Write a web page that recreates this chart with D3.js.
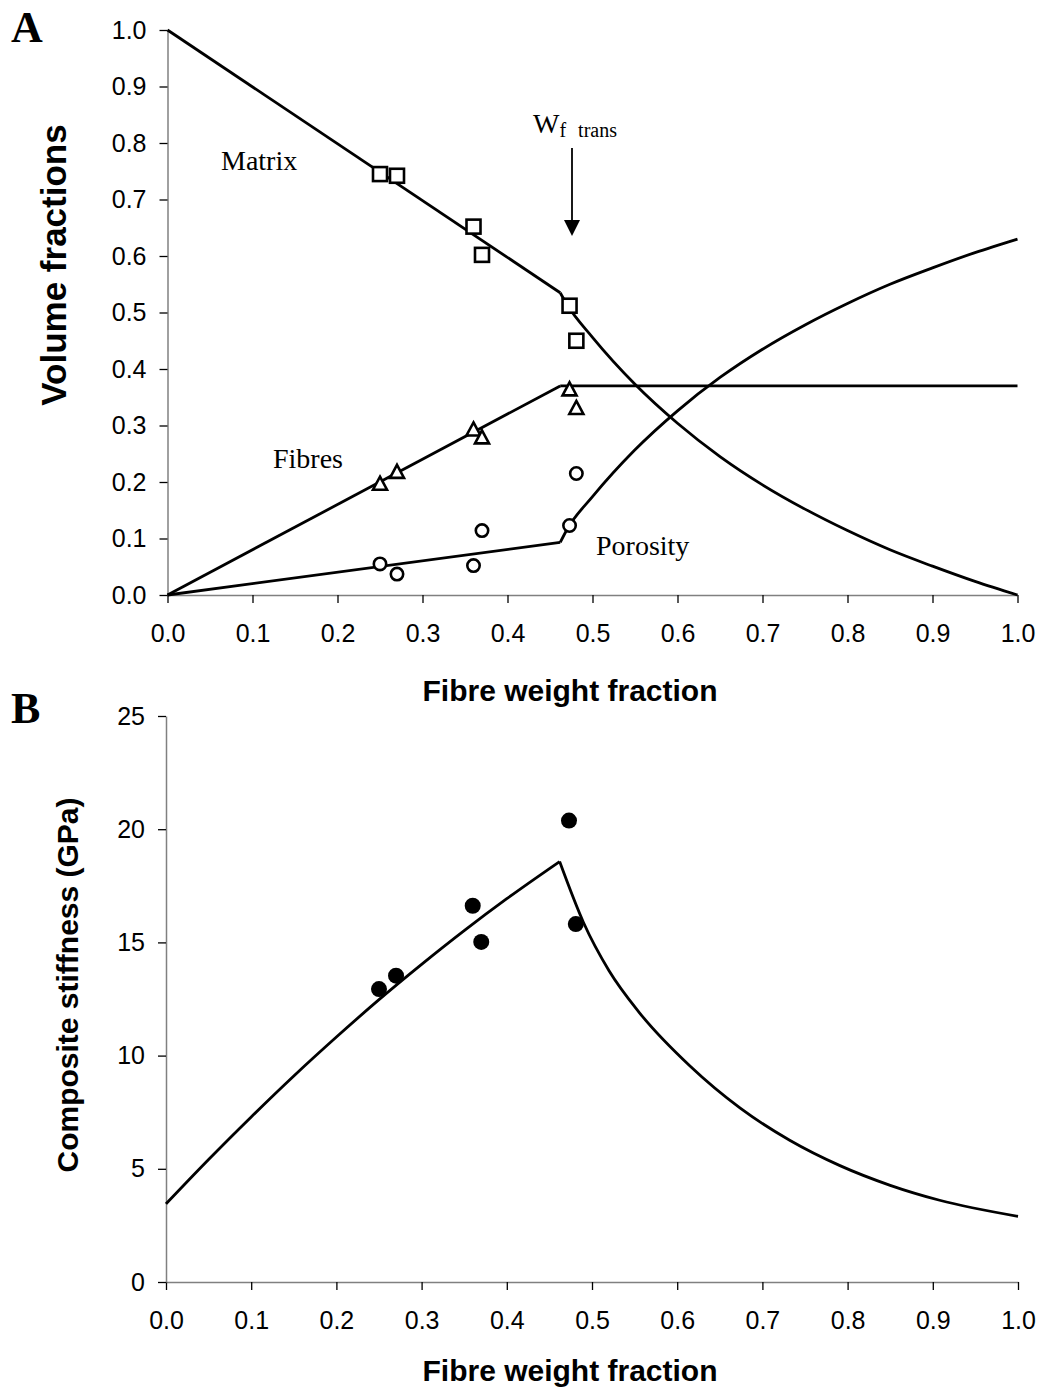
<!DOCTYPE html>
<html lang="en">
<head>
<meta charset="UTF-8">
<title>Volume fractions and composite stiffness vs fibre weight fraction</title>
<script src="https://cdnjs.cloudflare.com/ajax/libs/d3/7.8.5/d3.min.js"></script>
<style>
  body { margin: 0; background: #fff; }
  svg { display: block; }
  .tick text { font-family: "Liberation Sans", Arial, sans-serif; font-size: 25px; fill: #000; }
  .axis .domain { stroke: #808080; stroke-width: 1.5; }
  .axis .tick line { stroke: #000; stroke-width: 1.3; }
  .title { font-family: "Liberation Sans", Arial, sans-serif; font-size: 30px; font-weight: bold; }
  .note { font-family: "Liberation Serif", "Times New Roman", serif; font-size: 28px; }
  .panel { font-family: "Liberation Serif", "Times New Roman", serif; font-size: 44px; font-weight: bold; }
</style>
</head>
<body>
<div id="chart"></div>
<script>
// measured samples (fibre weight fraction)
const sampleWf = [0.25, 0.27, 0.36, 0.37, 0.473, 0.481];
const sampleMatrix = [0.745, 0.742, 0.652, 0.602, 0.512, 0.45];
const sampleFibres = [0.197, 0.218, 0.293, 0.279, 0.364, 0.331];
const samplePorosity = [0.055, 0.037, 0.052, 0.114, 0.123, 0.215];
const sampleStiffness = [12.94, 13.53, 16.62, 15.02, 20.38, 15.81];

// model lines, panel A (below and above the transition)
const modelWfLow = [0, 0.462];
const matrixLow = [1.0, 0.535];
const fibresLow = [0, 0.37];
const porosityLow = [0, 0.093];
const modelWfHigh = [0.462, 0.47, 0.5, 0.55, 0.6, 0.65, 0.7, 0.75, 0.8, 0.85, 0.9, 0.95, 1.0];
const matrixHigh = [0.535, 0.514, 0.456, 0.373, 0.304, 0.245, 0.195, 0.152, 0.114, 0.080, 0.051, 0.024, 0];
const fibresHigh = [0.37, 0.37, 0.37, 0.37, 0.37, 0.37, 0.37, 0.37, 0.37, 0.37, 0.37, 0.37, 0.37];
const porosityHigh = [0.093, 0.116, 0.174, 0.257, 0.326, 0.385, 0.435, 0.478, 0.516, 0.55, 0.579, 0.606, 0.63];

// model line, panel B
const stiffWfLow = [0, 0.05, 0.1, 0.15, 0.2, 0.25, 0.3, 0.35, 0.4, 0.462];
const stiffLow = [3.45, 5.41, 7.29, 9.10, 10.82, 12.47, 14.03, 15.52, 16.93, 18.57];
const stiffWfHigh = [0.462, 0.49, 0.52, 0.556, 0.615, 0.674, 0.732, 0.791, 0.85, 0.908, 1.0];
const stiffHigh = [18.57, 15.88, 13.75, 11.88, 9.54, 7.68, 6.26, 5.14, 4.27, 3.61, 2.9];

const xTicks = [0, 0.1, 0.2, 0.3, 0.4, 0.5, 0.6, 0.7, 0.8, 0.9, 1.0];
const yTicksA = [0, 0.1, 0.2, 0.3, 0.4, 0.5, 0.6, 0.7, 0.8, 0.9, 1.0];
const yTicksB = [0, 5, 10, 15, 20, 25];

const svg = d3.select("#chart").append("svg")
    .attr("width", 1040)
    .attr("height", 1389);

const xA = d3.scaleLinear().domain([0, 1]).range([167.5, 1017.5]);
const yA = d3.scaleLinear().domain([0, 1]).range([595, 30]);
const xB = d3.scaleLinear().domain([0, 1]).range([166, 1018]);
const yB = d3.scaleLinear().domain([0, 25]).range([1282, 716]);

function drawAxes(x, y, yTicks, yFmt) {
    svg.append("g")
        .attr("class", "axis")
        .attr("transform", `translate(0,${y.range()[0]})`)
        .call(d3.axisBottom(x).tickValues(xTicks).tickFormat(d3.format(".1f"))
            .tickSizeInner(8).tickSizeOuter(0).tickPadding(21));
    svg.append("g")
        .attr("class", "axis")
        .attr("transform", `translate(${x.range()[0]},0)`)
        .call(d3.axisLeft(y).tickValues(yTicks).tickFormat(yFmt)
            .tickSizeInner(8).tickSizeOuter(0).tickPadding(13));
}

function drawLine(x, y, xs, ys, curve) {
    const pts = xs.map((d, i) => [d, ys[i]]);
    svg.append("path")
        .datum(pts)
        .attr("fill", "none")
        .attr("stroke", "#000")
        .attr("stroke-width", 2.8)
        .attr("stroke-linejoin", "miter")
        .attr("d", d3.line().x(d => x(d[0])).y(d => y(d[1])).curve(curve));
}

// ---------- Panel A ----------
drawAxes(xA, yA, yTicksA, d3.format(".1f"));

drawLine(xA, yA, modelWfLow, matrixLow, d3.curveLinear);
drawLine(xA, yA, modelWfHigh, matrixHigh, d3.curveMonotoneX);
drawLine(xA, yA, modelWfLow, fibresLow, d3.curveLinear);
drawLine(xA, yA, modelWfHigh, fibresHigh, d3.curveLinear);
drawLine(xA, yA, modelWfLow, porosityLow, d3.curveLinear);
drawLine(xA, yA, modelWfHigh, porosityHigh, d3.curveMonotoneX);

const markerStyle = sel => sel.attr("fill", "#fff").attr("stroke", "#000").attr("stroke-width", 2.6);

svg.append("g").selectAll("rect")
    .data(sampleWf.map((d, i) => [d, sampleMatrix[i]]))
    .join("rect")
    .attr("x", d => xA(d[0]) - 7)
    .attr("y", d => yA(d[1]) - 7)
    .attr("width", 14)
    .attr("height", 14)
    .call(markerStyle);

svg.append("g").selectAll("path")
    .data(sampleWf.map((d, i) => [d, sampleFibres[i]]))
    .join("path")
    .attr("transform", d => `translate(${xA(d[0])},${yA(d[1])})`)
    .attr("d", "M0,-7L7,6L-7,6Z")
    .call(markerStyle);

svg.append("g").selectAll("circle")
    .data(sampleWf.map((d, i) => [d, samplePorosity[i]]))
    .join("circle")
    .attr("cx", d => xA(d[0]))
    .attr("cy", d => yA(d[1]))
    .attr("r", 6.2)
    .call(markerStyle);

svg.append("text").attr("class", "note").attr("x", 221).attr("y", 170).text("Matrix");
svg.append("text").attr("class", "note").attr("x", 273).attr("y", 468).text("Fibres");
svg.append("text").attr("class", "note").attr("x", 596).attr("y", 555).text("Porosity");

const wt = svg.append("text").attr("class", "note").attr("x", 533).attr("y", 133);
wt.append("tspan").text("W");
wt.append("tspan").attr("dy", 4).attr("font-size", 20).text("f");
wt.append("tspan").attr("dx", 12).attr("font-size", 20).text("trans");

svg.append("line")
    .attr("x1", 572).attr("x2", 572)
    .attr("y1", 148).attr("y2", 222)
    .attr("stroke", "#000").attr("stroke-width", 1.8);
svg.append("path")
    .attr("d", "M564,220L580,220L572,236Z")
    .attr("fill", "#000");

svg.append("text").attr("class", "panel").attr("x", 11).attr("y", 42).text("A");

svg.append("text").attr("class", "title")
    .attr("text-anchor", "middle")
    .style("font-size", "35px")
    .attr("transform", "translate(66,265) rotate(-90)")
    .text("Volume fractions");
svg.append("text").attr("class", "title")
    .attr("text-anchor", "middle")
    .attr("x", 570).attr("y", 701)
    .text("Fibre weight fraction");

// ---------- Panel B ----------
drawAxes(xB, yB, yTicksB, d3.format("d"));

drawLine(xB, yB, stiffWfLow, stiffLow, d3.curveMonotoneX);
drawLine(xB, yB, stiffWfHigh, stiffHigh, d3.curveMonotoneX);

svg.append("g").selectAll("circle")
    .data(sampleWf.map((d, i) => [d, sampleStiffness[i]]))
    .join("circle")
    .attr("cx", d => xB(d[0]))
    .attr("cy", d => yB(d[1]))
    .attr("r", 8)
    .attr("fill", "#000");

svg.append("text").attr("class", "panel").attr("x", 11).attr("y", 723).text("B");

svg.append("text").attr("class", "title")
    .attr("text-anchor", "middle")
    .attr("transform", "translate(78,985) rotate(-90)")
    .text("Composite stiffness (GPa)");
svg.append("text").attr("class", "title")
    .attr("text-anchor", "middle")
    .attr("x", 570).attr("y", 1381)
    .text("Fibre weight fraction");
</script>
</body>
</html>
